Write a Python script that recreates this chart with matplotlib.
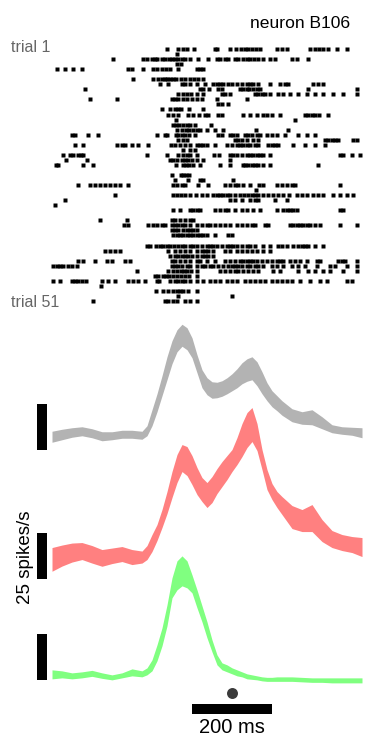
import numpy as np
import matplotlib
matplotlib.use("Agg")
import matplotlib.pyplot as plt

plt.rcParams['font.family'] = ['Liberation Sans', 'DejaVu Sans']

# ---------------------------------------------------------------- data
# spike times (ms, relative to event) for each of the 51 trials
spike_times = [
    [-163, -134, -123, -113, -95, -42, -37, -5, 10, 22, 32, 41, 49, 60, 70, 112, 124, 137, 195, 207, 218, 228, 241, 262, 287],
    [-138],
    [-297, -222, -213, -201, -192, -187, -176, -167, -157, -151, -142, -134, -126, -117, -105, -84, -59, -38, -30, -17, -9, 7, 16, 28, 37, 45, 55, 66, 78, 95, 107, 149, 162, 191],
    [-138, -128],
    [-438, -418, -397, -376, -259, -251, -222, -197, -187, -176, -165, -155, -134, -88, -80, -72],
    [],
    [-247, -197, -184, -176, -167, -162, -155, -148, -140, -128, -117, -105, -95, -84, -73],
    [-180, -159, -126, -117, -105, -88, -67, -47, -38, -30, -22, -9, -1, 12, 24, 37, 45, 53, 66, 95, 120, 132, 141, 203, 216, 228],
    [-367, -80, -72, -57, -34, -26, 20, 27, 37, 43, 52, 62, 70, 191, 312],
    [-134, -123, -113, -103, -88, -72, -26, -17, -5, 57, 66, 74, 82, 95, 116, 128, 145, 166, 187, 208, 228, 253, 278, 312],
    [-355, -288, -151, -142, -134, -123, -113, -101, -88, -76, -38, 37],
    [-34, -26, -9],
    [-176, -155, -142, -134, -128, -107, -72],
    [-159, -148, -134, -109, -97, -82, -68, -59, -34, -26, 28, 45, 62, 78, 87, 99, 120, 182, 191, 199, 207, 218, 241],
    [-140, 157],
    [-148, -140, -132, -123, -113, -105, -92, -52],
    [-138, -126, -115, -107, -98, -88, -80, -63, -42, -22, 60, 141],
    [-401, -392, -359, -334, -187, -167, -162, -140, -134, -126, -117, -107, -92, -34, -26, -5, 3, 12, 32, 41, 49, 62, 70, 87, 99, 112, 132, 166, 187, 208],
    [-134, -123, -113, 7, 16, 24, 37, 52, 66, 232, 241, 249, 257, 266, 303, 312],
    [-392, -372, -288, -276, -267, -251, -234, -209, -153, -142, -130, -117, -105, -88, -80, -72, -63, -42, -13, -1, 12, 20, 28, 37, 45, 57, 66, 91, 99, 107, 116, 153, 182, 208, 232],
    [-122, -105, -92],
    [-423, -405, -398, -384, -378, -372, -212, -163, -134, -123, -113, -105, -88, -45, -32, -5, 3, 12, 24, 37, 45, 53, 62, 70, 78, 95, 270, 278, 299, 320],
    [-415, -363, -155, -147, -138, -126, -117, -109, -101, -88, -72, -5],
    [-440, -434, -372, -347, -140, -123, -115, -107, -97, -80, -30, -5, 27, 32, 41, 49, 57, 66, 78, 95, 216],
    [],
    [-151, -128, -122, -115, -107],
    [-142, -109, -80, -73, 3],
    [-384, -355, -342, -330, -317, -305, -292, -280, -259, -147, -138, -126, -117, -84, -59, -17, -5, 7, 16, 27, 45, 68, 78, 112, 124, 137, 149, 157, 270],
    [60],
    [-292, -148, -138, -128, -117, -105, -90, -76, -63, -47, -38, -30, -23, -13, -5, 7, 20, 30, 41, 49, 57, 66, 78, 91, 103, 116, 128, 143, 162, 174, 187, 203, 216, 228, 253, 270, 287, 303],
    [-418, -5, 7, 24, 45, 57, 66, 107, 137],
    [-442],
    [-147, -130, -105, -97, -88, -80, -42, -30, -17, -9, 7, 24, 37, 53, 70, 112, 128, 137, 145, 153, 162, 270, 278],
    [],
    [-330, -263, -151, -142, -130, -117, -105, -97],
    [-270, -259, -209, -197, -187, -176, -167, -151, -142, -134, -126, -117, -105, -88, -76, -63, -55, -42, -30, -17, -5, 12, 24, 37, 49, 57, 82, 91, 145, 153, 162, 170, 178, 187, 195, 208, 220, 270, 312],
    [-151, -142, -134, -123, -113, -105, -97, -88],
    [-148, -138, -130, -122, -113, -105, -97, -88, -80, -72, -63, -42, -9, -1],
    [],
    [-213, -205, -190, -180, -172, -163, -155, -145, -134, -126, -117, -105, -97, -88, -76, -63, -55, -47, -38, -26, -13, -5, 3, 12, 24, 37, 45, 57, 78, 95, 116, 124, 137, 153, 166, 174, 182, 191, 208, 228],
    [-317, -305, -292, -280, -159, -142, -130, -117, -105, -88, -76, -67, -59, -47, -17, -5, 12, 24, 37, 49, 62, 78, 95],
    [-155, -142, -134, -126, -117, -109, -101, -88, -76, -67, -59, -47],
    [-384, -372, -342, -313, -301, -268, -255, -151, -142, -130, -117, -105, -88, -80, -63, -42, -17, -5, 7, 20, 28, 37, 45, 53, 62, 74, 87, 99, 112, 120, 128, 145, 157, 170, 187, 212, 220, 266, 274, 282, 312],
    [-447, -438, -430, -422, -409, -401, -388, -151, -142, -134, -126, -113, -105, -88, -76, -67, -55, -47, -34, -22, -9, -1, 7, 16, 24, 37, 45, 57, 66, 78, 99, 112, 128, 149, 166, 182, 212, 245, 257, 287, 312],
    [-238, -159, -147, -138, -128, -120, -112, -103, -88, -30, -17, -5, 7, 16, 28, 41, 53, 66, 103, 120, 166, 191, 208, 228, 245, 278, 312],
    [-192, -184, -173, -165, -157, -147, -138, -128, -117, -107, -88],
    [-447, -430, -401, -392, -384, -376, -365, -326, -309, -292, -259, -247, -234, -218, -188, -182, -155, -142, -134, -126, -117, -105, -88, -72, -55, -42, -30, -13, -1, 12, 32, 45, 57, 70, 82, 99, 112, 124, 137, 149, 170, 195, 220, 237, 287, 299],
    [-328],
    [-190, -172, -159, -148, -138, -130, -122, -109, -88],
    [-134, -1],
    [-347, -167, -159, -147, -138, -117, -105, -88],
]

# time base of the rate estimates (ms)
t_ms = np.array([
    -450, -425, -400, -375, -350, -325, -300, -275, -250,
    -225, -212.5, -200, -187.5, -175, -162.5, -150, -137.5, -125, -112.5,
    -100, -87.5, -75, -62.5, -50, -37.5, -25, -12.5, 0, 12.5,
    25, 37.5, 50, 62.5, 75, 87.5, 100, 112.5, 125,
    150, 175, 200, 225, 250, 275, 300, 325,
])

# firing rate (spikes/s) mean and s.e.m. for the three conditions
gray_mean = [7.07, 8.29, 9.38, 10.05, 8.97, 7.34, 7.61, 8.42, 8.42,
             7.88, 10.33, 17.39, 25.54, 34.78, 44.29, 52.99, 59.24, 62.23, 60.33,
             55.43, 46.74, 38.59, 34.51, 32.47, 32.47, 33.29, 34.78, 36.68, 38.86,
             41.58, 43.34, 44.29, 41.30, 36.41, 31.52, 27.72, 25.27, 22.69,
             18.75, 17.26, 17.66, 14.67, 11.41, 10.46, 10.05, 9.24]
gray_sem = [2.99, 2.85, 2.58, 2.45, 2.45, 2.45, 2.17, 2.17, 2.17,
            2.17, 2.72, 4.35, 4.89, 5.43, 6.25, 6.25, 5.98, 5.98, 5.98,
            5.43, 4.89, 4.89, 4.62, 4.48, 4.21, 4.21, 4.35, 4.62, 5.16,
            5.71, 6.11, 6.25, 6.52, 5.98, 4.89, 4.35, 4.08, 3.94,
            3.53, 3.40, 4.08, 3.26, 2.17, 2.04, 2.17, 2.72]

red_mean = [10.41, 12.50, 14.13, 14.95, 13.18, 11.22, 12.36, 13.32, 11.68,
            11.68, 14.13, 19.29, 25.00, 32.61, 41.30, 51.09, 59.78, 65.49, 63.86,
            58.97, 52.99, 48.37, 45.38, 48.37, 52.99, 56.79, 60.33, 64.13, 69.29,
            75.27, 80.71, 83.70, 76.90, 64.67, 53.80, 47.28, 42.93, 39.67,
            33.42, 31.52, 32.88, 26.09, 21.47, 19.57, 18.48, 17.12]
red_sem = [6.44, 5.71, 5.16, 4.62, 4.76, 4.54, 4.21, 4.08, 4.08,
           3.26, 3.80, 4.62, 4.35, 4.89, 5.98, 7.07, 7.61, 7.34, 7.88,
           7.88, 7.34, 6.52, 6.79, 7.07, 6.79, 6.79, 6.52, 5.98, 7.34,
           8.97, 9.51, 9.24, 7.34, 5.43, 5.43, 4.35, 4.35, 4.89,
           6.25, 5.98, 7.34, 5.98, 4.62, 4.35, 4.35, 5.16]

green_mean = [5.43, 5.43, 4.62, 5.16, 5.98, 4.76, 3.80, 4.89, 6.52,
              5.71, 7.07, 10.33, 17.12, 25.82, 37.50, 52.45, 59.24, 61.68, 59.78,
              54.62, 46.47, 38.32, 29.62, 20.92, 13.32, 9.78, 8.70, 7.34, 6.25,
              5.43, 4.35, 3.94, 3.53, 2.99, 2.72, 2.72, 2.85, 2.85,
              2.85, 2.58, 2.31, 2.31, 2.17, 2.17, 2.17, 2.17]
green_sem = [2.45, 1.90, 1.63, 1.63, 1.63, 1.49, 1.36, 1.36, 1.90,
             1.63, 1.90, 2.99, 4.35, 4.89, 5.71, 5.43, 7.88, 8.15, 7.34,
             4.89, 4.89, 4.35, 4.35, 3.26, 2.72, 1.90, 1.90, 1.63, 1.63,
             1.36, 1.36, 1.22, 1.09, 1.09, 1.09, 1.09, 1.22, 1.22,
             1.22, 1.22, 1.22, 1.22, 1.36, 1.36, 1.36, 1.36]

band_colors = ['#b3b3b3', '#ff8080', '#80ff80']

# ---------------------------------------------------------------- figure
W, H = 368, 746
fig = plt.figure(figsize=(W / 100, H / 100), dpi=100)
XLIM = (-505, 330)

# raster
ax_r = fig.add_axes([30 / W, 1 - 303.5 / H, 334 / W, 257 / H])
for trial, spikes in enumerate(spike_times, start=1):
    ax_r.plot(spikes, np.full(len(spikes), trial), ls='none', marker='s',
              ms=2.4, mfc='black', mec='none')
ax_r.set_xlim(*XLIM)
ax_r.set_ylim(51.5, 0.5)
ax_r.axis('off')

fig.text(11 / W, 1 - 47 / H, 'trial 1', ha='left', va='center',
         fontsize=11.5, color='#666666')
fig.text(11 / W, 1 - 302 / H, 'trial 51', ha='left', va='center',
         fontsize=11.5, color='#666666')
fig.text(350 / W, 1 - 23 / H, 'neuron B106', ha='right', va='center',
         fontsize=12.6, color='black')

# PSTH bands, stacked with a common rate scale
px_per_rate = 1.84
ax = fig.add_axes([30 / W, 0, 334 / W, 436 / H])
ax.set_xlim(*XLIM)
ax.set_ylim(0, 436 / px_per_rate)
ax.axis('off')

offsets = [161, 91, 33.5]
bar_base = [0, 0, 2.5]
series = [(gray_mean, gray_sem), (red_mean, red_sem), (green_mean, green_sem)]
for (m, s), col, off, b0 in zip(series, band_colors, offsets, bar_base):
    m = np.asarray(m)
    s = np.asarray(s)
    ax.fill_between(t_ms, off + m - s, off + m + s, color=col, lw=0)
    # 25 spikes/s scale bar
    ax.plot([-475, -475], [off + b0, off + b0 + 25], color='black', lw=7.2,
            solid_capstyle='butt')

# 200 ms time bar and event marker
ax.plot([-100, 100], [20.1, 20.1], color='black', lw=7.2, solid_capstyle='butt')
ax.plot([0], [28.6], marker='o', ms=7.9, color='#3a3a3a', mec='none')
ax.text(0, 10.3, '200 ms', ha='center', va='center', fontsize=14.5)

fig.text(25 / W, 1 - 557 / H, '25 spikes/s', ha='center', va='center',
         rotation=90, fontsize=13.5)

fig.savefig('out.png', dpi=100)
